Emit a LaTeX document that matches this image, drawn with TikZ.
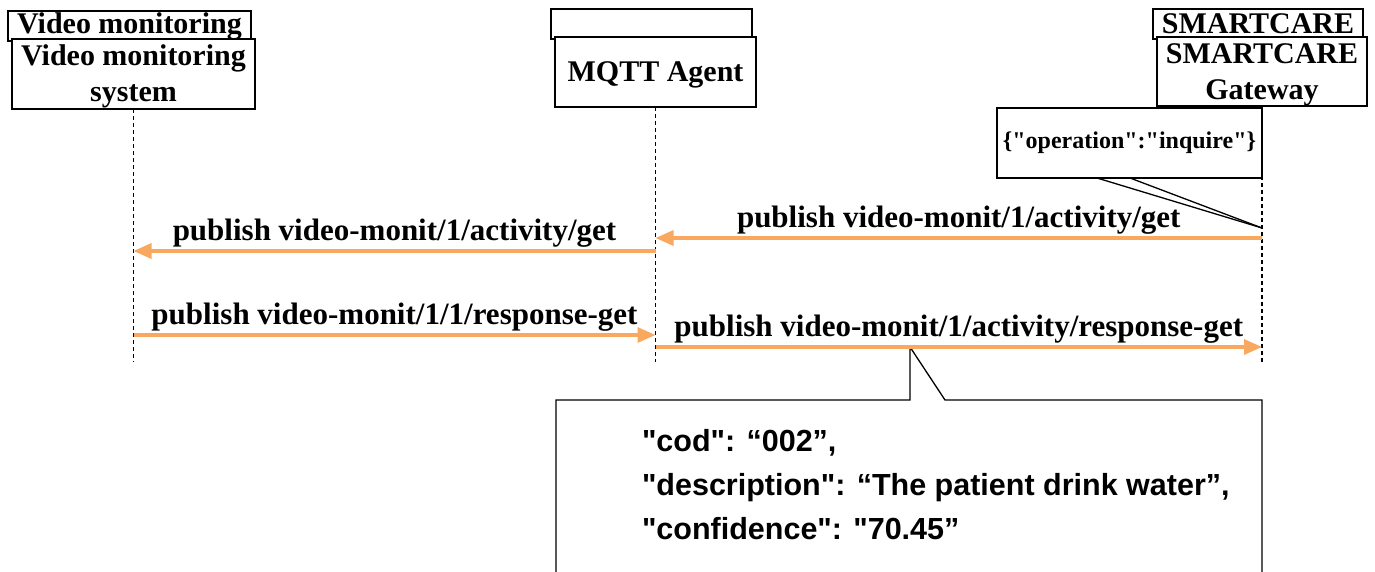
\documentclass[tikz,border=0pt]{standalone}
\usepackage{fontspec}
\setmainfont{Liberation Serif}
\newfontfamily\jsonfont{Liberation Sans}
\usetikzlibrary{arrows.meta}
\definecolor{msgorange}{RGB}{249,168,96}

\begin{document}
\begin{tikzpicture}[x=1pt,y=-1pt,
  every node/.style={inner sep=0pt, outer sep=0pt},
  headbox/.style={draw=black, line width=1.3pt, fill=white, anchor=north west,
    align=center, font=\bfseries\fontsize{30}{36}\selectfont},
  lifeline/.style={draw=black, line width=1.7pt, dash pattern=on 4pt off 3pt},
  msg/.style={draw=msgorange, line width=3.2pt, -{Triangle[length=18pt,width=15pt]}},
  msglabel/.style={anchor=base, yshift=11pt, font=\bfseries\fontsize{31}{36}\selectfont},
  notebox/.style={draw=black, line width=1.3pt, fill=white},
  callout/.style={draw=black, line width=1.3pt},
  jsonline/.style={anchor=base west, font=\jsonfont\bfseries\fontsize{30.5}{36}\selectfont}
]
\useasboundingbox (0,0) rectangle (1375,572);
\clip (0,0) rectangle (1375,572);
\fill[white] (0,0) rectangle (1375,572);

% stacked header boxes (rear copies first)
\node[headbox, minimum width=243pt, minimum height=30pt, text height=20pt, text depth=4pt] (vidB) at (8,11) {Video monitoring};
\node[headbox, minimum width=201pt, minimum height=30pt] (mqttB) at (551,9) {};
\node[headbox, minimum width=210pt, minimum height=30pt, text height=20pt, text depth=0pt] (scB) at (1153,9) {SMARTCARE};

\node[headbox, minimum width=243pt, minimum height=70pt, text depth=2pt] (vidF) at (12,39) {Video monitoring\\system};
\node[headbox, minimum width=201pt, minimum height=70pt, text depth=0pt] (mqttF) at (555,37) {MQTT Agent};
\node[headbox, minimum width=210pt, minimum height=69pt, text depth=-4pt] (scF) at (1157,37) {SMARTCARE\\Gateway};

% lifelines
\coordinate (vidEnd) at (vidF.south |- 0,362);
\coordinate (mqttEnd) at (mqttF.south |- 0,362);
\coordinate (scEnd) at (scF.south |- 0,362);
\draw[lifeline] (vidF.south) -- (vidEnd);
\draw[lifeline] (mqttF.south) -- (mqttEnd);
\draw[lifeline] (scF.south) -- (scEnd);

% inquire note on the gateway lifeline
\node[notebox, anchor=north west, minimum width=265pt, minimum height=70pt,
  font=\bfseries\fontsize{24}{28}\selectfont] (inq) at (997,108)
  {\{\textquotedbl operation\textquotedbl:\textquotedbl inquire\textquotedbl\}};
\coordinate (inqL) at (1097,178);
\coordinate (inqR) at (1130,178);
\coordinate (inqTip) at (scF.south |- 0,228);
\draw[callout] (inqL) -- (inqTip);
\draw[callout] (inqR) -- (inqTip);

% response payload note
\coordinate (callTip) at (910,347);
\draw[notebox] (callTip) -- (910,400) -- (556,400) -- (556,600) -- (1262,600)
  -- (1262,400) -- (945,400) -- cycle;
\node[jsonline] (j1) at (642,451) {"cod": “002”,};
\node[jsonline] (j2) at (642,495) {"description": “The patient drink water”,};
\node[jsonline] (j3) at (642,539) {"confidence": "70.45”};

% messages
\coordinate (m1s) at (scF.south |- 0,238);
\coordinate (m1e) at (mqttF.south |- 0,238);
\coordinate (m2s) at (mqttF.south |- 0,251);
\coordinate (m2e) at (vidF.south |- 0,251);
\coordinate (m3s) at (vidF.south |- 0,335);
\coordinate (m3e) at (mqttF.south |- 0,335);
\coordinate (m4s) at (mqttF.south |- 0,347);
\coordinate (m4e) at (scF.south |- 0,347);

\draw[msg] (m1s) -- (m1e) node[msglabel, midway] (l1) {publish video-monit/1/activity/get};
\draw[msg] (m2s) -- (m2e) node[msglabel, midway] (l2) {publish video-monit/1/activity/get};
\draw[msg] (m3s) -- (m3e) node[msglabel, midway] (l3) {publish video-monit/1/1/response-get};
\draw[msg] (m4s) -- (m4e) node[msglabel, midway] (l4) {publish video-monit/1/activity/response-get};
\end{tikzpicture}
\end{document}
